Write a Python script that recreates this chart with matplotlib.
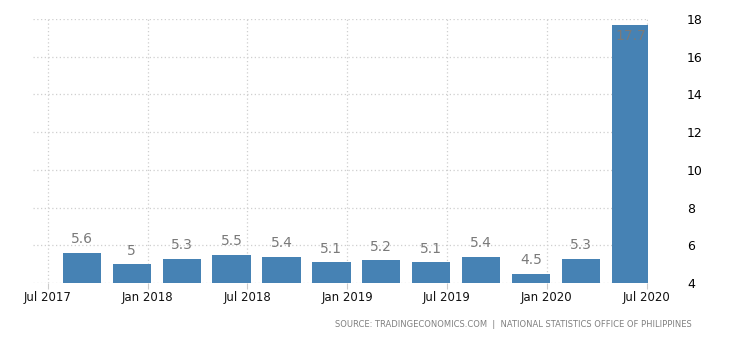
import numpy as np
import pandas as pd
import matplotlib
matplotlib.use("Agg")
import matplotlib.pyplot as plt

# quarterly unemployment rate, Philippines
dates = ["2017-07", "2017-10", "2018-01", "2018-04", "2018-07", "2018-10",
         "2019-01", "2019-04", "2019-07", "2019-10", "2020-01", "2020-04"]
values = [5.6, 5.0, 5.3, 5.5, 5.4, 5.1, 5.2, 5.1, 5.4, 4.5, 5.3, 17.7]
labels = ["5.6", "5", "5.3", "5.5", "5.4", "5.1", "5.2", "5.1", "5.4", "4.5", "5.3", "17.7"]
tick_dates = ["2017-07", "2018-01", "2018-07", "2019-01", "2019-07", "2020-01", "2020-07"]
tick_labels = ["Jul 2017", "Jan 2018", "Jul 2018", "Jan 2019", "Jul 2019", "Jan 2020", "Jul 2020"]
yticks = [4, 6, 8, 10, 12, 14, 16, 18]

start = pd.Period("2017-07", freq="M")


def months(d):
    return (pd.Period(d, freq="M") - start).n


x = np.array([months(d) for d in dates]) + 2.05
xt = [months(d) for d in tick_dates]

fig = plt.figure(figsize=(7.3, 3.4), dpi=100)
ax = fig.add_axes([0.045, 0.1676, 0.843, 0.7765])

ax.bar(x, np.array(values) - 4, bottom=4, width=2.3, color="#4682b4", zorder=2)

for xi, v, lab in zip(x, values, labels):
    if v > 17:
        ax.text(xi, v - 0.25, lab, ha="center", va="top", color="#7a7a7a", fontsize=10, zorder=3)
    else:
        ax.text(xi, v + 0.35, lab, ha="center", va="bottom", color="#7a7a7a", fontsize=10, zorder=3)

ax.set_xlim(-0.9, 36.1)
ax.set_ylim(4, 18)
ax.set_xticks(xt)
ax.set_xticklabels(tick_labels, fontsize=8.5, color="#111111")
ax.set_yticks(yticks)
ax.yaxis.tick_right()
ax.tick_params(axis="y", length=0, pad=28, labelsize=9)
ax.tick_params(axis="x", length=4, color="#cccccc", pad=2)
ax.grid(True, color="#cfcfcf", linestyle=(0, (1, 2)), linewidth=0.9, zorder=0)
for s in ax.spines.values():
    s.set_visible(False)

fig.text(0.948, 0.047, "SOURCE: TRADINGECONOMICS.COM  |  NATIONAL STATISTICS OFFICE OF PHILIPPINES",
         ha="right", va="center", fontsize=6.0, color="#808080")

fig.savefig("out.png", dpi=100)
